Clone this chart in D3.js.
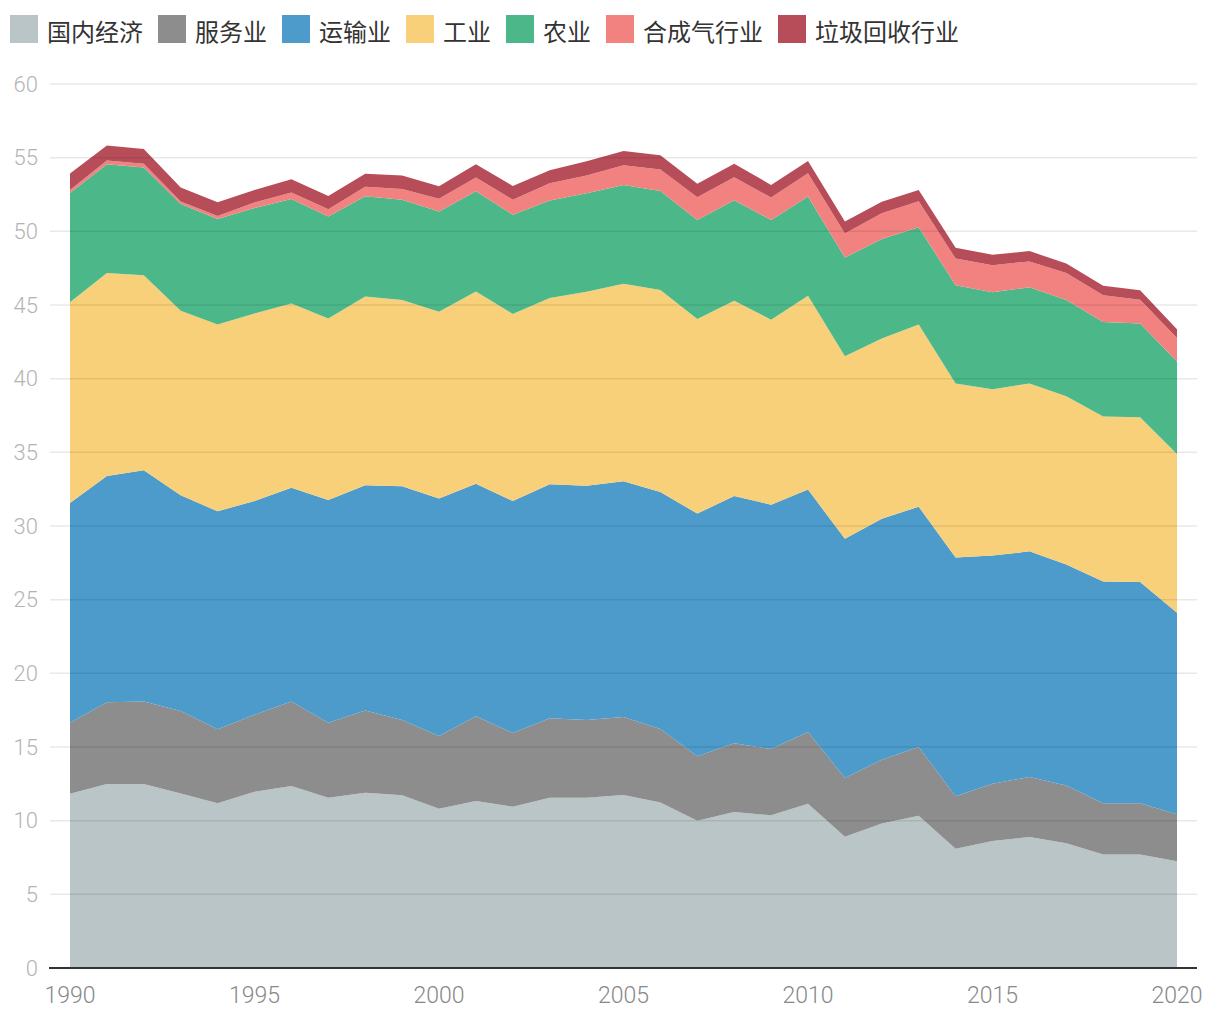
<!DOCTYPE html>
<html>
<head>
<meta charset="utf-8">
<script src="https://cdn.jsdelivr.net/npm/d3@7"></script>
<style>
  html, body { margin: 0; padding: 0; background: #fff; }
  svg { display: block; }
</style>
</head>
<body>
<svg id="chart" width="1220" height="1020"></svg>
<script>
const years = d3.range(1990, 2021);
const seriesNames = ["国内经济", "服务业", "运输业", "工业", "农业", "合成气行业", "垃圾回收行业"];
const colors = ["#b9c5c6", "#8d8d8d", "#4c9bcb", "#f9d07a", "#4cb88a", "#f18280", "#b84d5a"];

const domestic = [11.83,12.49,12.49,11.85,11.18,11.97,12.35,11.56,11.90,11.72,10.81,11.33,10.95,11.56,11.56,11.74,11.24,10.00,10.59,10.36,11.15,8.91,9.80,10.34,8.10,8.62,8.89,8.46,7.71,7.71,7.25];
const services = [4.82,5.54,5.59,5.59,5.02,5.22,5.73,5.09,5.57,5.11,4.94,5.75,5.00,5.39,5.27,5.30,4.98,4.37,4.66,4.50,4.87,3.99,4.34,4.66,3.55,3.89,4.07,3.92,3.47,3.47,3.18];
const transport = [14.91,15.37,15.70,14.64,14.80,14.51,14.52,15.11,15.29,15.86,16.11,15.79,15.75,15.88,15.91,15.99,16.09,16.47,16.79,16.59,16.45,16.24,16.36,16.31,16.22,15.48,15.32,15.00,15.06,15.02,13.69];
const industry = [13.62,13.78,13.24,12.53,12.68,12.73,12.51,12.33,12.81,12.65,12.69,13.04,12.69,12.65,13.16,13.42,13.71,13.21,13.25,12.55,13.16,12.39,12.23,12.37,11.80,11.30,11.39,11.43,11.19,11.18,10.77];
const agriculture = [7.43,7.38,7.31,7.25,7.16,7.16,7.09,6.91,6.81,6.81,6.79,6.81,6.74,6.61,6.69,6.70,6.72,6.72,6.82,6.77,6.73,6.69,6.75,6.59,6.67,6.57,6.53,6.53,6.41,6.37,6.28];
const syngas = [0.20,0.25,0.25,0.16,0.20,0.36,0.43,0.50,0.64,0.73,0.88,0.93,1.02,1.18,1.20,1.34,1.45,1.54,1.56,1.52,1.59,1.64,1.74,1.77,1.81,1.83,1.76,1.84,1.82,1.61,1.59];
const waste = [1.11,1.02,1.00,0.95,0.93,0.86,0.91,0.90,0.88,0.91,0.84,0.91,0.93,0.88,0.97,0.96,0.97,0.92,0.92,0.86,0.82,0.80,0.78,0.77,0.74,0.72,0.70,0.64,0.64,0.64,0.59];

const yTicks = [0, 5, 10, 15, 20, 25, 30, 35, 40, 45, 50, 55, 60];
const xTicks = [1990, 1995, 2000, 2005, 2010, 2015, 2020];

const seriesValues = [domestic, services, transport, industry, agriculture, syngas, waste];
const table = years.map((y, i) => {
  const row = { year: y };
  seriesNames.forEach((n, k) => row[n] = seriesValues[k][i]);
  return row;
});

const svg = d3.select("#chart");
const x = d3.scaleLinear().domain([1990, 2020]).range([70, 1177]);
const y = d3.scaleLinear().domain([0, 60]).range([968, 84]);

const stack = d3.stack().keys(seriesNames);
const layers = stack(table);
const area = d3.area()
  .x(d => x(d.data.year))
  .y0(d => y(d[0]))
  .y1(d => y(d[1]));

svg.append("g").selectAll("path")
  .data(layers)
  .join("path")
  .attr("d", area)
  .attr("fill", (d, i) => colors[i]);

// gridlines on top (subtle)
const grid = svg.append("g");
grid.selectAll("line")
  .data(yTicks.filter(t => t > 0))
  .join("line")
  .attr("x1", 50).attr("x2", 1197)
  .attr("y1", d => y(d)).attr("y2", d => y(d))
  .attr("stroke", "#000").attr("stroke-opacity", 0.09).attr("stroke-width", 1.5);

// y labels
svg.append("g").selectAll("text")
  .data(yTicks)
  .join("text")
  .attr("x", 38).attr("y", d => y(d))
  .attr("text-anchor", "end").attr("dominant-baseline", "central")
  .attr("font-family", "Roboto, 'Noto Sans', sans-serif")
  .attr("font-weight", 300)
  .attr("font-size", 22)
  .attr("fill", "#b4b4b4")
  .text(d => d);

// x axis line
svg.append("line")
  .attr("x1", 49).attr("x2", 1197)
  .attr("y1", y(0)).attr("y2", y(0))
  .attr("stroke", "#333").attr("stroke-width", 2);

// x labels
svg.append("g").selectAll("text")
  .data(xTicks)
  .join("text")
  .attr("x", d => x(d)).attr("y", 1003)
  .attr("text-anchor", "middle")
  .attr("font-family", "Roboto, 'Noto Sans', sans-serif")
  .attr("font-weight", 300)
  .attr("font-size", 23)
  .attr("fill", "#888")
  .text(d => d);

// legend
const legend = svg.append("g");
let lx = 10;
seriesNames.forEach((n, i) => {
  legend.append("rect")
    .attr("x", lx).attr("y", 15).attr("width", 28).attr("height", 28)
    .attr("fill", colors[i]);
  const t = legend.append("text")
    .attr("x", lx + 37).attr("y", 30)
    .attr("dominant-baseline", "central")
    .attr("font-family", "'Noto Sans CJK SC', sans-serif")
    .attr("font-size", 24)
    .attr("fill", "#333")
    .text(n);
  const w = t.node().getComputedTextLength();
  lx += 37 + w + 15;
});
</script>
</body>
</html>
